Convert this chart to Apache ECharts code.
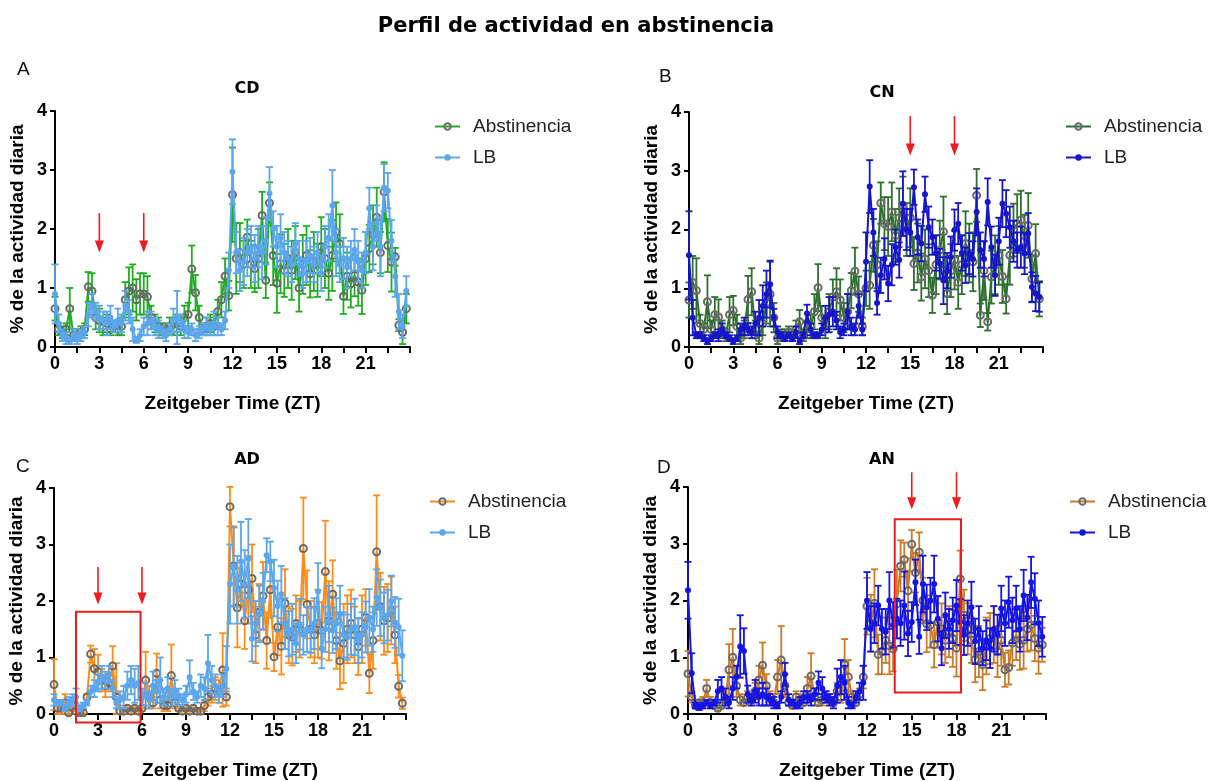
<!DOCTYPE html>
<html>
<head>
<meta charset="utf-8">
<title>Perfil de actividad en abstinencia</title>
<script src="https://cdn.jsdelivr.net/npm/echarts@6/dist/echarts.min.js"></script>
<style>
html, body { margin: 0; padding: 0; background: #fff; }
#main { width: 1212px; height: 781px; }
</style>
</head>
<body>
<div id="main"></div>
<script>
// Zeitgeber time bins (15 min)
var zt = [
	0,0.25,0.5,0.75,1,1.25,1.5,1.75,2,2.25,2.5,2.75,
	3,3.25,3.5,3.75,4,4.25,4.5,4.75,5,5.25,5.5,5.75,
	6,6.25,6.5,6.75,7,7.25,7.5,7.75,8,8.25,8.5,8.75,
	9,9.25,9.5,9.75,10,10.25,10.5,10.75,11,11.25,11.5,11.75,
	12,12.25,12.5,12.75,13,13.25,13.5,13.75,14,14.25,14.5,14.75,
	15,15.25,15.5,15.75,16,16.25,16.5,16.75,17,17.25,17.5,17.75,
	18,18.25,18.5,18.75,19,19.25,19.5,19.75,20,20.25,20.5,20.75,
	21,21.25,21.5,21.75,22,22.25,22.5,22.75,23,23.25,23.5,23.75
];
var xTickLabels = [0, 3, 6, 9, 12, 15, 18, 21];

// CD
var cdAbst = [
	0.65,0.30,0.25,0.30,0.65,0.20,0.20,0.25,0.30,1.02,0.95,0.50,
	0.45,0.35,0.40,0.30,0.35,0.30,0.35,0.80,0.95,1.00,0.80,0.90,
	0.90,0.85,0.50,0.40,0.35,0.30,0.30,0.35,0.30,0.40,0.35,0.50,
	0.55,1.32,0.92,0.50,0.30,0.35,0.40,0.35,0.60,0.80,1.20,0.87,
	2.58,1.50,1.60,1.40,1.86,1.40,1.33,1.50,2.23,1.13,2.44,1.55,
	1.08,1.41,1.30,1.50,1.30,1.60,1.00,1.40,1.55,1.24,1.45,1.30,
	1.70,1.50,1.25,1.55,1.95,1.75,0.86,1.20,1.07,1.21,1.10,0.96,
	1.50,1.67,1.90,2.20,1.60,2.63,1.72,1.44,1.53,0.37,0.25,0.65
];
var cdAbstErr = [
	0.20,0.10,0.10,0.10,0.35,0.10,0.10,0.10,0.10,0.25,0.30,0.20,
	0.20,0.15,0.15,0.10,0.10,0.10,0.15,0.30,0.40,0.40,0.35,0.35,
	0.35,0.35,0.20,0.15,0.15,0.10,0.10,0.15,0.10,0.15,0.15,0.20,
	0.20,0.40,0.30,0.20,0.10,0.15,0.15,0.15,0.20,0.30,0.30,0.25,
	0.80,0.60,0.50,0.40,0.30,0.40,0.40,0.50,0.40,0.30,0.35,0.50,
	0.50,0.50,0.45,0.50,0.50,0.45,0.40,0.50,0.50,0.40,0.50,0.45,
	0.50,0.50,0.45,0.60,0.50,0.50,0.30,0.40,0.40,0.35,0.40,0.40,
	0.45,0.40,0.50,0.50,0.35,0.50,0.45,0.50,0.15,0.10,0.20,0.25
];
var cdLb = [
	0.90,0.40,0.20,0.15,0.10,0.20,0.15,0.20,0.25,0.55,0.70,0.60,
	0.50,0.45,0.40,0.50,0.35,0.45,0.40,0.70,0.60,0.30,0.12,0.20,
	0.35,0.40,0.45,0.35,0.30,0.25,0.20,0.30,0.45,0.50,0.40,0.30,
	0.25,0.30,0.20,0.25,0.30,0.35,0.30,0.40,0.35,0.30,0.45,1.30,
	2.97,1.60,1.30,1.45,1.60,1.70,1.50,1.70,1.60,1.80,2.60,2.00,
	1.70,1.85,1.60,1.50,1.40,1.75,1.50,1.25,1.45,1.55,1.40,1.60,
	1.25,1.70,1.85,2.40,1.60,1.40,1.50,1.35,1.50,1.65,1.45,1.30,
	1.60,2.35,1.70,2.10,1.70,2.70,2.65,1.80,1.20,0.60,0.35,0.95
];
var cdLbErr = [
	0.50,0.15,0.10,0.10,0.05,0.10,0.10,0.10,0.10,0.20,0.20,0.15,
	0.20,0.15,0.20,0.20,0.10,0.20,0.15,0.25,0.20,0.20,0.05,0.10,
	0.15,0.20,0.15,0.15,0.15,0.10,0.10,0.10,0.20,0.45,0.15,0.15,
	0.10,0.10,0.10,0.10,0.10,0.15,0.10,0.20,0.15,0.10,0.15,0.30,
	0.55,0.35,0.35,0.40,0.40,0.35,0.40,0.35,0.45,0.40,0.45,0.30,
	0.35,0.40,0.35,0.30,0.30,0.35,0.30,0.25,0.35,0.30,0.30,0.35,
	0.30,0.35,0.40,0.60,0.40,0.30,0.35,0.35,0.30,0.35,0.35,0.30,
	0.35,0.35,0.40,0.30,0.50,0.40,0.30,0.35,0.35,0.30,0.20,0.25
];

// CN
var cnAbst = [
	0.80,1.10,0.96,0.40,0.30,0.77,0.30,0.55,0.51,0.30,0.20,0.55,
	0.62,0.35,0.15,0.30,0.81,0.94,0.30,0.15,0.40,0.75,0.90,0.50,
	0.15,0.20,0.20,0.25,0.20,0.30,0.43,0.20,0.30,0.35,0.60,1.01,
	0.50,0.30,0.60,0.85,0.94,0.80,0.50,0.60,0.96,1.29,0.90,0.35,
	1.00,1.05,1.73,1.40,2.45,2.10,2.05,2.30,1.90,2.20,2.40,2.00,
	2.20,1.42,1.60,1.19,1.50,1.30,0.88,1.40,1.65,1.96,0.91,1.30,
	1.48,1.10,1.40,1.76,1.60,1.45,2.58,0.54,1.30,0.43,1.19,1.40,
	1.56,1.20,0.82,1.56,1.99,2.10,2.16,1.80,2.07,1.16,1.59,0.82
];
var cnAbstErr = [
	0.30,0.45,0.55,0.15,0.10,0.45,0.15,0.30,0.30,0.15,0.10,0.30,
	0.25,0.20,0.10,0.15,0.40,0.40,0.15,0.10,0.20,0.35,0.55,0.25,
	0.10,0.10,0.10,0.10,0.10,0.15,0.20,0.10,0.15,0.20,0.30,0.40,
	0.20,0.15,0.30,0.30,0.40,0.35,0.25,0.30,0.30,0.40,0.30,0.15,
	0.30,0.40,0.45,0.40,0.35,0.45,0.50,0.50,0.45,0.50,0.50,0.45,
	0.50,0.45,0.50,0.40,0.50,0.45,0.30,0.50,0.50,0.60,0.35,0.45,
	0.50,0.45,0.50,0.55,0.50,0.50,0.45,0.20,0.50,0.15,0.45,0.50,
	0.50,0.45,0.25,0.50,0.45,0.50,0.50,0.45,0.55,0.40,0.50,0.30
];
var cnLb = [
	1.56,0.50,0.20,0.20,0.15,0.10,0.15,0.20,0.20,0.30,0.20,0.15,
	0.10,0.15,0.30,0.35,0.30,0.25,0.40,0.50,0.70,0.90,1.07,0.50,
	0.25,0.20,0.15,0.20,0.15,0.25,0.10,0.20,0.57,0.30,0.20,0.20,
	0.30,0.50,0.55,0.60,0.45,0.25,0.30,0.60,0.35,0.30,0.70,0.30,
	1.45,2.73,1.95,0.75,1.22,1.50,1.08,1.40,1.70,1.48,2.44,2.00,
	1.95,2.72,1.87,1.76,2.60,2.04,1.87,1.60,1.42,1.13,1.30,1.53,
	1.99,2.10,1.60,1.39,1.59,1.50,2.30,1.65,1.50,2.47,1.70,1.22,
	1.80,2.44,2.27,2.04,1.80,1.65,1.70,1.59,1.93,1.02,0.91,0.85
];
var cnLbErr = [
	0.75,0.30,0.05,0.05,0.05,0.05,0.05,0.05,0.10,0.10,0.05,0.05,
	0.05,0.05,0.10,0.15,0.10,0.10,0.20,0.30,0.35,0.40,0.40,0.15,
	0.10,0.05,0.05,0.05,0.05,0.10,0.05,0.05,0.15,0.10,0.05,0.05,
	0.10,0.20,0.30,0.25,0.15,0.10,0.10,0.30,0.15,0.10,0.20,0.10,
	0.50,0.45,0.40,0.20,0.30,0.35,0.30,0.35,0.30,0.30,0.55,0.35,
	0.40,0.30,0.30,0.30,0.30,0.35,0.30,0.30,0.25,0.40,0.30,0.35,
	0.35,0.35,0.30,0.30,0.35,0.30,0.40,0.30,0.30,0.40,0.35,0.35,
	0.40,0.40,0.40,0.35,0.35,0.30,0.35,0.35,0.35,0.25,0.30,0.25
];

// AD
var adAbst = [
	0.52,0.10,0.10,0.20,0.02,0.15,0.05,0.02,0.02,0.30,1.06,0.80,
	0.75,0.60,0.50,0.55,0.85,0.30,0.05,0.05,0.10,0.05,0.10,0.05,
	0.10,0.60,0.30,0.20,0.72,0.25,0.15,0.15,0.68,0.20,0.10,0.05,
	0.10,0.05,0.10,0.05,0.05,0.15,0.30,0.35,0.45,0.40,0.78,0.30,
	3.67,2.62,1.88,2.30,1.65,2.20,2.40,1.40,1.80,2.09,1.30,2.20,
	1.01,1.54,1.20,1.96,1.40,1.36,1.60,1.50,2.93,1.94,1.50,1.40,
	1.60,1.48,2.52,1.65,2.12,1.30,0.94,1.25,1.50,1.60,1.40,1.19,
	1.50,1.71,0.72,1.30,2.87,1.90,1.65,1.70,1.83,1.40,0.49,0.19
];
var adAbstErr = [
	0.45,0.10,0.10,0.15,0.05,0.10,0.05,0.05,0.05,0.05,0.15,0.35,
	0.30,0.20,0.20,0.15,0.35,0.60,0.10,0.05,0.05,0.05,0.05,0.05,
	0.05,0.50,0.20,0.10,0.35,0.15,0.10,0.10,0.55,0.10,0.05,0.05,
	0.05,0.05,0.05,0.05,0.05,0.10,0.15,0.15,0.20,0.20,0.65,0.15,
	0.35,0.70,0.70,0.40,0.50,0.60,0.60,0.50,0.50,0.60,0.50,0.50,
	0.25,0.50,0.50,0.60,0.50,0.50,0.50,0.50,0.90,0.60,0.50,0.50,
	0.60,0.50,0.90,0.70,0.60,0.50,0.50,0.70,0.60,0.60,0.50,0.50,
	0.60,0.50,0.35,0.50,1.00,0.60,0.60,0.60,0.60,0.50,0.20,0.10
];
var adLb = [
	0.25,0.20,0.20,0.10,0.20,0.25,0.30,0.10,0.15,0.20,0.40,0.45,
	0.55,0.65,0.60,0.70,0.45,0.20,0.25,0.30,0.50,0.60,0.50,0.55,
	0.30,0.35,0.25,0.50,0.40,0.60,0.30,0.45,0.30,0.40,0.30,0.25,
	0.35,0.65,0.40,0.30,0.50,0.45,0.90,0.60,0.50,0.35,0.50,0.80,
	2.30,2.60,2.20,2.70,2.30,2.75,1.33,1.60,1.77,2.00,2.81,2.70,
	2.23,1.91,2.12,1.60,1.42,1.50,1.25,1.59,1.40,1.50,1.48,1.60,
	2.17,1.16,1.50,1.77,1.48,1.60,1.77,1.40,1.36,1.50,1.54,1.30,
	1.40,1.54,1.71,1.50,2.06,1.88,1.70,1.75,2.00,1.62,1.54,1.03
];
var adLbErr = [
	0.10,0.05,0.05,0.05,0.10,0.10,0.15,0.05,0.05,0.05,0.10,0.15,
	0.15,0.20,0.15,0.15,0.15,0.10,0.15,0.20,0.25,0.25,0.30,0.30,
	0.15,0.20,0.15,0.25,0.20,0.40,0.15,0.20,0.15,0.20,0.15,0.10,
	0.15,0.30,0.15,0.10,0.20,0.20,0.50,0.25,0.20,0.15,0.20,0.40,
	0.70,0.70,0.60,0.70,0.60,0.70,0.40,0.40,0.50,0.50,0.30,0.35,
	0.50,0.45,0.50,0.45,0.40,0.45,0.35,0.45,0.35,0.40,0.40,0.45,
	0.50,0.35,0.40,0.50,0.40,0.45,0.50,0.40,0.40,0.45,0.50,0.40,
	0.40,0.45,0.50,0.40,0.50,0.50,0.45,0.45,0.45,0.45,0.50,0.45
];

// AN
var anAbst = [
	0.71,0.30,0.15,0.20,0.20,0.45,0.20,0.15,0.10,0.15,0.25,0.78,
	1.00,0.50,0.25,0.20,0.30,0.25,0.40,0.60,0.86,0.50,0.30,0.20,
	0.65,0.95,0.50,0.20,0.15,0.30,0.25,0.20,0.45,0.67,0.30,0.20,
	0.25,0.30,0.25,0.20,0.40,0.30,0.87,0.65,0.30,0.20,0.35,0.65,
	1.90,1.60,1.95,1.05,1.10,1.30,1.20,1.15,1.94,2.61,2.72,2.17,
	2.99,2.49,2.85,2.00,1.59,1.57,1.22,1.62,1.50,1.30,1.45,1.33,
	1.16,2.38,1.74,1.50,1.30,0.96,1.10,0.87,1.20,1.33,1.40,1.10,
	1.30,0.78,0.82,1.25,1.40,1.23,1.30,1.50,1.57,1.33,1.16,1.22
];
var anAbstErr = [
	0.40,0.10,0.05,0.05,0.10,0.15,0.10,0.05,0.05,0.05,0.10,0.45,
	0.50,0.20,0.10,0.05,0.10,0.10,0.15,0.25,0.40,0.20,0.10,0.05,
	0.30,0.60,0.20,0.05,0.05,0.10,0.10,0.05,0.20,0.40,0.15,0.05,
	0.10,0.10,0.10,0.05,0.15,0.10,0.45,0.30,0.10,0.05,0.10,0.20,
	0.50,0.50,0.60,0.35,0.40,0.40,0.50,0.40,0.60,0.45,0.30,0.35,
	0.25,0.35,0.35,0.40,0.50,0.40,0.40,0.45,0.45,0.40,0.45,0.50,
	0.50,0.50,0.45,0.45,0.40,0.40,0.45,0.45,0.50,0.45,0.50,0.45,
	0.45,0.30,0.30,0.40,0.45,0.45,0.50,0.40,0.45,0.40,0.45,0.30
];
var anLb = [
	2.18,0.72,0.15,0.12,0.15,0.20,0.15,0.20,0.40,0.45,0.30,0.20,
	0.45,0.65,1.19,1.11,0.35,0.25,0.40,0.30,0.35,0.30,0.25,0.20,
	0.15,0.30,0.70,0.25,0.20,0.15,0.20,0.30,0.30,0.25,0.35,0.55,
	0.45,0.30,0.25,0.20,0.50,0.65,0.55,0.20,0.15,0.30,0.40,0.55,
	2.00,1.50,1.60,1.91,1.50,1.45,2.00,1.57,1.68,1.60,1.91,1.42,
	1.62,2.32,1.36,2.29,1.88,2.00,2.29,1.68,1.16,1.74,1.50,1.65,
	1.91,1.62,1.39,1.60,1.88,1.28,1.50,1.16,1.30,1.16,1.50,1.40,
	1.86,1.60,1.97,1.65,1.86,1.50,2.09,1.70,2.32,2.03,1.60,1.36
];
var anLbErr = [
	0.50,0.35,0.05,0.05,0.05,0.05,0.05,0.05,0.20,0.20,0.15,0.10,
	0.20,0.20,0.55,0.40,0.15,0.10,0.20,0.15,0.20,0.15,0.10,0.10,
	0.05,0.10,0.20,0.10,0.05,0.05,0.10,0.10,0.10,0.10,0.10,0.20,
	0.20,0.10,0.10,0.10,0.30,0.30,0.30,0.10,0.05,0.10,0.15,0.30,
	0.50,0.40,0.35,0.35,0.35,0.40,0.50,0.40,0.35,0.40,0.60,0.40,
	0.35,0.40,0.30,0.50,0.40,0.40,0.50,0.40,0.30,0.40,0.35,0.40,
	0.45,0.40,0.35,0.40,0.45,0.40,0.40,0.30,0.35,0.35,0.40,0.35,
	0.40,0.40,0.45,0.40,0.40,0.40,0.45,0.40,0.45,0.45,0.40,0.35
];

// anotaciones (flechas y recuadros rojos), en unidades de los ejes
var arrowMarks = [
	{ panel: 0, x: 3, from: 2.27, to: 1.60 },
	{ panel: 0, x: 6, from: 2.27, to: 1.60 },
	{ panel: 1, x: 15, from: 3.93, to: 3.26 },
	{ panel: 1, x: 18, from: 3.93, to: 3.26 },
	{ panel: 2, x: 3, from: 2.60, to: 1.94 },
	{ panel: 2, x: 6, from: 2.60, to: 1.94 },
	{ panel: 3, x: 15, from: 4.26, to: 3.61 },
	{ panel: 3, x: 18, from: 4.26, to: 3.61 }
];
var boxMarks = [
	{ panel: 2, x1: 1.5, x2: 5.9, y1: 1.81, y2: -0.15 },
	{ panel: 3, x1: 13.86, x2: 18.3, y1: 3.43, y2: 0.38 }
];

var FONT = '"Liberation Sans", Arial, sans-serif';
var HEAVY = '"DejaVu Sans", "Liberation Sans", sans-serif';
var chart = echarts.init(document.getElementById('main'));

var panels = [
	{ key: 'CD', letter: 'A', abst: cdAbst, abstErr: cdAbstErr, lb: cdLb, lbErr: cdLbErr,
	  cAbst: '#1fae1f', cLb: '#5ba6ec', grid: { left: 55, top: 111, width: 355, height: 236 },
	  legend: { left: 434, top: 117 }, title: { x: 242, y: 76 }, tag: { x: 12, y: 55 } },
	{ key: 'CN', letter: 'B', abst: cnAbst, abstErr: cnAbstErr, lb: cnLb, lbErr: cnLbErr,
	  cAbst: '#2d6f2d', cLb: '#1616c8', grid: { left: 689, top: 112, width: 354, height: 235 },
	  legend: { left: 1065, top: 117 }, title: { x: 877, y: 80 }, tag: { x: 654, y: 62 } },
	{ key: 'AD', letter: 'C', abst: adAbst, abstErr: adAbstErr, lb: adLb, lbErr: adLbErr,
	  cAbst: '#ff8c17', cLb: '#5ba6ec', grid: { left: 54, top: 488, width: 352, height: 230 },
	  legend: { left: 429, top: 492 }, title: { x: 242, y: 447 }, tag: { x: 11, y: 452 } },
	{ key: 'AN', letter: 'D', abst: anAbst, abstErr: anAbstErr, lb: anLb, lbErr: anLbErr,
	  cAbst: '#c97b29', cLb: '#1414e4', grid: { left: 688, top: 487, width: 358, height: 230 },
	  legend: { left: 1069, top: 492 }, title: { x: 877, y: 447 }, tag: { x: 652, y: 453 } }
];

function pairs(vals){
	return zt.map(function(t, i){ return [t, vals[i]]; });
}

function bars(vals, errs){
	return zt.map(function(t, i){
		return [t, Math.max(0, vals[i] - errs[i]), vals[i] + errs[i]];
	});
}

function errorBar(color){
	return function(params, api){
		var x = api.value(0);
		var lo = api.coord([x, api.value(1)]);
		var hi = api.coord([x, api.value(2)]);
		var w = 3.5;
		var st = { stroke: color, lineWidth: 1.8 };
		return {
			type: 'group',
			children: [
				{ type: 'line', shape: { x1: lo[0], y1: lo[1], x2: hi[0], y2: hi[1] }, style: st },
				{ type: 'line', shape: { x1: hi[0] - w, y1: hi[1], x2: hi[0] + w, y2: hi[1] }, style: st },
				{ type: 'line', shape: { x1: lo[0] - w, y1: lo[1], x2: lo[0] + w, y2: lo[1] }, style: st }
			]
		};
	};
}

var option = {
	backgroundColor: '#fff',
	animation: false,
	title: [{
		text: 'Perfil de actividad en abstinencia',
		left: 571, top: 11, textAlign: 'center',
		textStyle: { fontFamily: HEAVY, fontSize: 21, fontWeight: 'bold', color: '#000' }
	}],
	grid: [], xAxis: [], yAxis: [], legend: [], series: []
};

panels.forEach(function(p, i){
	option.title.push({
		text: p.key, left: p.title.x, top: p.title.y, textAlign: 'center',
		textStyle: { fontFamily: HEAVY, fontSize: 16, fontWeight: 'bold', color: '#000' }
	});
	option.title.push({
		text: p.letter, left: p.tag.x, top: p.tag.y,
		textStyle: { fontFamily: '"Liberation Sans Narrow", "Liberation Sans", sans-serif', fontSize: 19, fontWeight: 'normal', color: '#111' }
	});
	option.grid.push(p.grid);
	option.xAxis.push({
		gridIndex: i, type: 'value', min: 0, max: 24, interval: 1.5,
		axisLine: { onZero: false, lineStyle: { color: '#000', width: 2 } },
		axisTick: { length: 6, lineStyle: { color: '#000', width: 2 } },
		splitLine: { show: false },
		axisLabel: {
			margin: 8, color: '#000', fontFamily: FONT, fontSize: 18, fontWeight: 'bold',
			formatter: function(v){ return xTickLabels.indexOf(v) >= 0 ? String(v) : ''; }
		},
		name: 'Zeitgeber Time (ZT)', nameLocation: 'middle', nameGap: 47,
		nameTextStyle: { fontFamily: FONT, fontSize: 19, fontWeight: 'bold', color: '#000' }
	});
	option.yAxis.push({
		gridIndex: i, type: 'value', min: 0, max: 4, interval: 1,
		axisLine: { show: true, lineStyle: { color: '#000', width: 2 } },
		axisTick: { show: true, length: 5, lineStyle: { color: '#000', width: 2 } },
		splitLine: { show: false },
		axisLabel: { margin: 8, color: '#000', fontFamily: FONT, fontSize: 18, fontWeight: 'bold' },
		name: '% de la actividad diaria', nameLocation: 'middle', nameGap: 28,
		nameTextStyle: { fontFamily: FONT, fontSize: 19, fontWeight: 'bold', color: '#000' }
	});
	option.legend.push({
		orient: 'vertical', left: p.legend.left, top: p.legend.top, padding: 0,
		itemWidth: 25, itemHeight: 8, itemGap: 12,
		data: [p.key + '|Abstinencia', p.key + '|LB'],
		formatter: function(n){ return n.split('|')[1]; },
		textStyle: { fontFamily: FONT, fontSize: 19, color: '#222', padding: [0, 0, 0, 8] }
	});
	option.series.push({
		name: p.key + '|errAbst', type: 'custom', xAxisIndex: i, yAxisIndex: i,
		data: bars(p.abst, p.abstErr), renderItem: errorBar(p.cAbst),
		encode: { x: 0, y: [1, 2] }, silent: true, z: 1
	});
	option.series.push({
		name: p.key + '|Abstinencia', type: 'line', xAxisIndex: i, yAxisIndex: i,
		data: pairs(p.abst), symbol: 'circle', symbolSize: 7, showSymbol: true,
		lineStyle: { color: p.cAbst, width: 2 },
		itemStyle: { color: 'rgba(255,255,255,0)', borderColor: '#6a6a6a', borderWidth: 2 },
		silent: true, z: 2
	});
	option.series.push({
		name: p.key + '|errLb', type: 'custom', xAxisIndex: i, yAxisIndex: i,
		data: bars(p.lb, p.lbErr), renderItem: errorBar(p.cLb),
		encode: { x: 0, y: [1, 2] }, silent: true, z: 3
	});
	option.series.push({
		name: p.key + '|LB', type: 'line', xAxisIndex: i, yAxisIndex: i,
		data: pairs(p.lb), symbol: 'circle', symbolSize: 6, showSymbol: true,
		lineStyle: { color: p.cLb, width: 2 },
		itemStyle: { color: p.cLb },
		silent: true, z: 4
	});
});

chart.setOption(option);

// flechas y recuadros rojos, convertidos con las escalas de cada panel
var graphics = [];
arrowMarks.forEach(function(a){
	var top = chart.convertToPixel({ gridIndex: a.panel }, [a.x, a.from]);
	var tip = chart.convertToPixel({ gridIndex: a.panel }, [a.x, a.to]);
	graphics.push({
		type: 'line', silent: true, z: 10,
		shape: { x1: top[0], y1: top[1], x2: tip[0], y2: tip[1] - 10 },
		style: { stroke: '#ee1c1c', lineWidth: 1.6 }
	});
	graphics.push({
		type: 'polygon', silent: true, z: 10,
		shape: { points: [[tip[0], tip[1]], [tip[0] - 4.5, tip[1] - 12], [tip[0] + 4.5, tip[1] - 12]] },
		style: { fill: '#ee1c1c' }
	});
});
boxMarks.forEach(function(b){
	var p1 = chart.convertToPixel({ gridIndex: b.panel }, [b.x1, b.y1]);
	var p2 = chart.convertToPixel({ gridIndex: b.panel }, [b.x2, b.y2]);
	graphics.push({
		type: 'rect', silent: true, z: 10,
		shape: { x: p1[0], y: p1[1], width: p2[0] - p1[0], height: p2[1] - p1[1] },
		style: { fill: 'none', stroke: '#e81e1e', lineWidth: 2 }
	});
});
chart.setOption({ graphic: graphics });
</script>
</body>
</html>
